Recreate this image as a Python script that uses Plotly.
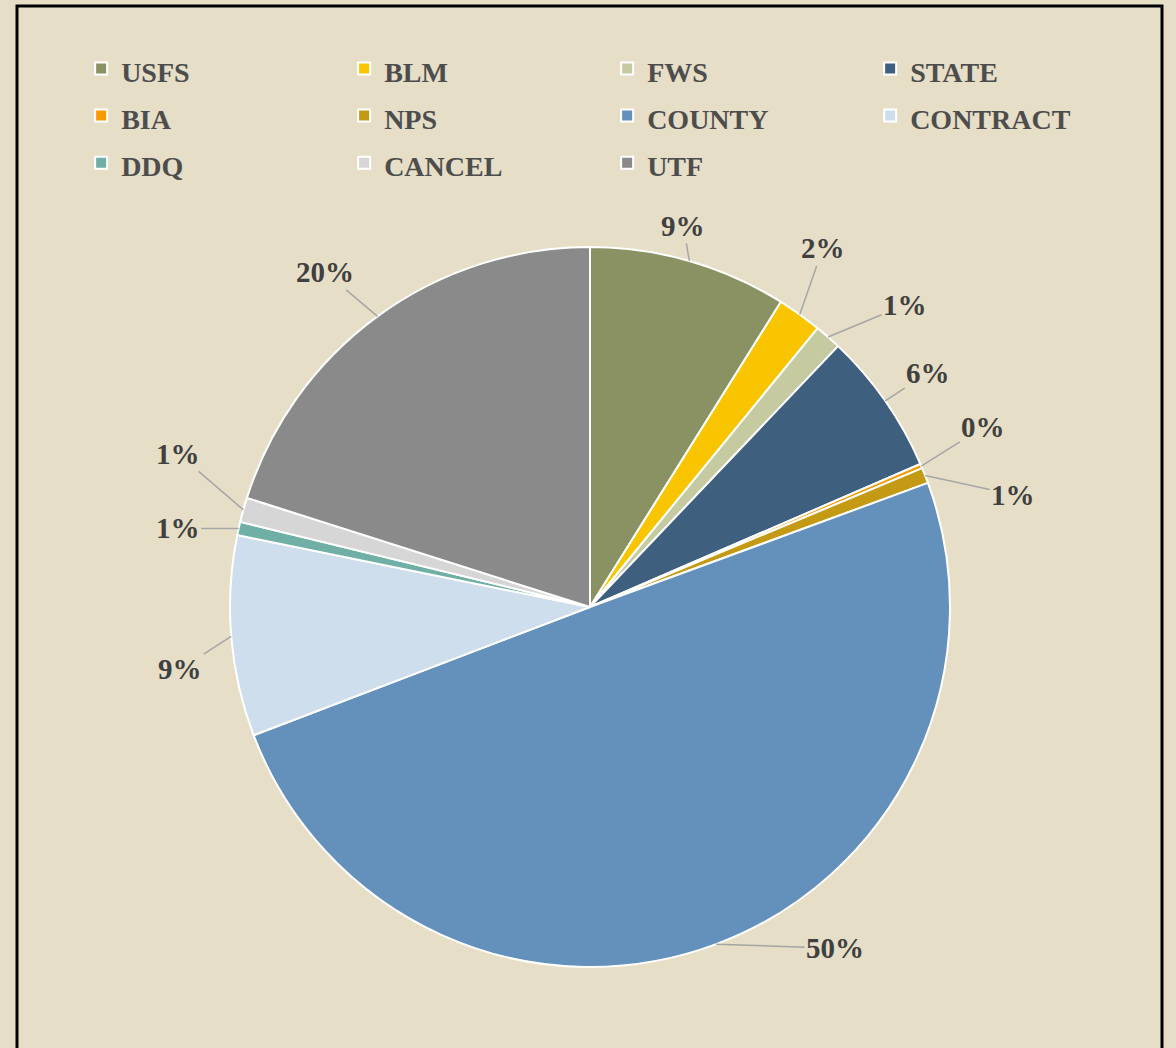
import math
import plotly.graph_objects as go

# agency share of fires
agencies = ["USFS", "BLM", "FWS", "STATE", "BIA", "NPS", "COUNTY", "CONTRACT", "DDQ", "CANCEL", "UTF"]
shares = [8.9, 2.0, 1.2, 6.4, 0.2, 0.7, 49.8, 9.0, 0.6, 1.1, 20.1]

colors = ["#8A9264", "#F9C400", "#C6CAA0", "#3F5F7E", "#F59A00", "#C49A14",
          "#6391BB", "#CFDEEC", "#6FAFA5", "#D6D6D6", "#8A8A8A"]
# pixel offsets of each percentage label from its slice edge
label_offsets = [(-6, -35), (23, -66), (77, -32), (43, -28), (62, -39), (88, 19),
                 (119, 4), (-51, 33), (-61, 0), (-65, -56), (-52, -44)]

W, H = 1176, 1048
cx, cy, R = 590, 607, 360
bg = "#E6DEC6"
font = "Liberation Serif"

fig = go.Figure(go.Pie(
    labels=['<span style="font-size:28px">%s</span>' % a for a in agencies],
    values=shares,
    sort=False,
    direction="clockwise",
    rotation=0,
    marker=dict(colors=colors, line=dict(color="white", width=2)),
    textinfo="none",
    hoverinfo="label+percent",
    domain=dict(x=[(cx - R) / W, (cx + R) / W], y=[1 - (cy + R) / H, 1 - (cy - R) / H]),
))

total = sum(shares)
cum = 0
for v, (ox, oy) in zip(shares, label_offsets):
    mid = (cum + v / 2) / total * 2 * math.pi
    cum += v
    px = cx + R * math.sin(mid)
    py = cy - R * math.cos(mid)
    fig.add_annotation(
        x=px / W, y=1 - py / H, xref="paper", yref="paper",
        ax=ox, ay=oy, text="%d%%" % round(v / total * 100),
        showarrow=True, arrowhead=0, arrowwidth=1.5, arrowcolor="#A6A6A6",
        font=dict(family=font, size=29, color="#404040"),
    )

fig.add_shape(type="rect", xref="paper", yref="paper",
              x0=17 / W, x1=1162 / W, y0=-0.1, y1=1 - 6 / H,
              line=dict(color="black", width=3))

fig.update_layout(
    width=W, height=H,
    margin=dict(l=0, r=0, t=0, b=0),
    paper_bgcolor=bg, plot_bgcolor=bg,
    font=dict(family=font, color="#4D4D4D"),
    showlegend=True,
    legend=dict(
        orientation="h", x=0.069, xanchor="left", y=0.962, yanchor="top",
        entrywidth=218, entrywidthmode="pixels",
        font=dict(family=font, size=34, color="#4D4D4D", weight="bold"),
        bgcolor="rgba(0,0,0,0)", traceorder="normal",
    ),
)
fig.update_annotations(font_weight="bold")

fig.write_html(
    "out.html",
    config={"displayModeBar": False},
    post_script="document.body.style.margin='0';document.body.style.background='%s';" % bg,
)
